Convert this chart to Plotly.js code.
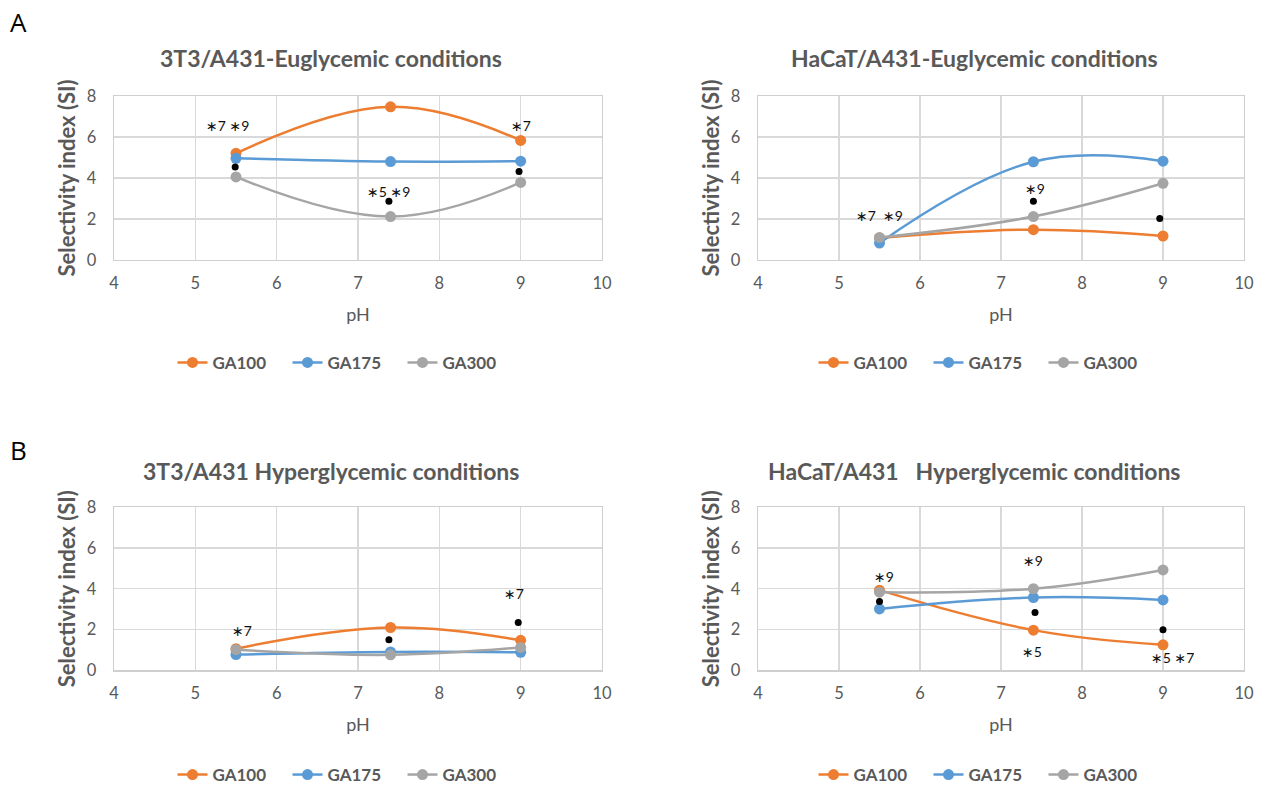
<!DOCTYPE html>
<html><head><meta charset="utf-8">
<script src="https://cdn.plot.ly/plotly-3.0.1.min.js"></script>
<style>html,body{margin:0;padding:0;background:#fff}#chart{width:1266px;height:793px}</style>
</head><body><div id="chart"></div>
<script>
// ---------- data ----------
const pH = [5.5, 7.4, 9];
const seriesNames = ['GA100', 'GA175', 'GA300'];
const panelTitles = ['3T3/A431-Euglycemic conditions', 'HaCaT/A431-Euglycemic conditions',
                     '3T3/A431 Hyperglycemic conditions', 'HaCaT/A431   Hyperglycemic conditions'];
const panelLetters = ['A', 'B'];
const xTitle = 'pH';
const yTitle = 'Selectivity index (SI)';

// Panel A, left: 3T3/A431 euglycemic
const euT3_GA100 = [5.2, 7.47, 5.83];
const euT3_GA175 = [4.96, 4.8, 4.82];
const euT3_GA300 = [4.05, 2.12, 3.78];
const euT3_dotX = [5.49, 7.38, 8.98];
const euT3_dotY = [4.53, 2.87, 4.32];
const euT3_sigX = [5.4, 7.37, 9.0];
const euT3_sigY = [6.57, 3.32, 6.57];
const euT3_sigText = ['∗7 ∗9', '∗5 ∗9', '∗7'];

// Panel A, right: HaCaT/A431 euglycemic
const euHa_GA100 = [1.07, 1.48, 1.17];
const euHa_GA175 = [0.83, 4.79, 4.82];
const euHa_GA300 = [1.1, 2.12, 3.74];
const euHa_dotX = [7.4, 8.96];
const euHa_dotY = [2.87, 2.02];
const euHa_sigX = [5.5, 7.42];
const euHa_sigY = [2.15, 3.47];
const euHa_sigText = ['∗7  ∗9', '∗9'];

// Panel B, left: 3T3/A431 hyperglycemic
const hyT3_GA100 = [1.06, 2.1, 1.47];
const hyT3_GA175 = [0.77, 0.9, 0.88];
const hyT3_GA300 = [1.01, 0.76, 1.12];
const hyT3_dotX = [7.38, 8.97];
const hyT3_dotY = [1.5, 2.35];
const hyT3_sigX = [5.57, 8.92];
const hyT3_sigY = [1.93, 3.79];
const hyT3_sigText = ['∗7', '∗7'];

// Panel B, right: HaCaT/A431 hyperglycemic
const hyHa_GA100 = [3.93, 1.97, 1.25];
const hyHa_GA175 = [3.01, 3.57, 3.45];
const hyHa_GA300 = [3.83, 4.0, 4.92];
const hyHa_dotX = [5.5, 7.42, 9.0];
const hyHa_dotY = [3.38, 2.84, 1.99];
const hyHa_sigX = [5.55, 7.39, 7.38, 9.12];
const hyHa_sigY = [4.6, 5.37, 0.93, 0.64];
const hyHa_sigText = ['∗9', '∗9', '∗5', '∗5 ∗7'];

// ---------- build ----------
const colors = ['#ED7D31', '#5B9BD5', '#A5A5A5'];
const panels = [
  {series: [euT3_GA100, euT3_GA175, euT3_GA300], dx: euT3_dotX, dy: euT3_dotY, sx: euT3_sigX, sy: euT3_sigY, st: euT3_sigText},
  {series: [euHa_GA100, euHa_GA175, euHa_GA300], dx: euHa_dotX, dy: euHa_dotY, sx: euHa_sigX, sy: euHa_sigY, st: euHa_sigText},
  {series: [hyT3_GA100, hyT3_GA175, hyT3_GA300], dx: hyT3_dotX, dy: hyT3_dotY, sx: hyT3_sigX, sy: hyT3_sigY, st: hyT3_sigText},
  {series: [hyHa_GA100, hyHa_GA175, hyHa_GA300], dx: hyHa_dotX, dy: hyHa_dotY, sx: hyHa_sigX, sy: hyHa_sigY, st: hyHa_sigText}
];

const W = 1266, H = 793;
const xDomains = [[114 / W, 602 / W], [758 / W, 1244 / W]];
const yDomains = [[1 - 263 / H, 1 - 97 / H], [1 - 678 / H, 1 - 513 / H]];
const legendX = [345 / W, 986 / W];
const legendY = [1 - 367 / H, 1 - 784 / H];
const titleY = [1 - 59 / H, 1 - 476 / H];
const titleX = [331 / W, 974 / W];

const FONT = 'Lato, "Open Sans", sans-serif';
const GREY = '#595959';

const traces = [];
const layout = {
  width: W, height: H,
  margin: {l: 0, r: 0, t: 0, b: 0},
  paper_bgcolor: '#fff', plot_bgcolor: '#fff',
  font: {family: FONT, color: GREY},
  annotations: [],
  showlegend: true
};

panels.forEach((p, i) => {
  const col = i % 2, row = Math.floor(i / 2);
  const n = i + 1;
  const xa = n === 1 ? 'x' : 'x' + n, ya = n === 1 ? 'y' : 'y' + n;
  const legName = n === 1 ? 'legend' : 'legend' + n;
  p.series.forEach((vals, k) => {
    traces.push({
      x: pH, y: vals, name: seriesNames[k], type: 'scatter', mode: 'lines+markers',
      line: {color: colors[k], width: 2.5, shape: 'spline', smoothing: 1.15},
      marker: {color: colors[k], size: 11},
      xaxis: xa, yaxis: ya, legend: legName
    });
  });
  traces.push({
    x: p.dx, y: p.dy, type: 'scatter', mode: 'markers', showlegend: false,
    marker: {color: '#000', size: 7}, xaxis: xa, yaxis: ya, hoverinfo: 'skip'
  });
  p.st.forEach((t, k) => {
    layout.annotations.push({
      x: p.sx[k], y: p.sy[k], xref: xa, yref: ya, text: t, showarrow: false,
      font: {family: 'Lato, "DejaVu Sans", sans-serif', size: 14, color: '#111'}
    });
  });
  const axName = n === 1 ? '' : String(n);
  layout['xaxis' + axName] = {
    domain: xDomains[col], anchor: ya, range: [4, 10], dtick: 1, tick0: 4,
    showgrid: true, gridcolor: '#D9D9D9', gridwidth: 1.3,
    showline: true, linecolor: '#CFCFCF', linewidth: 1.3, mirror: true, zeroline: false,
    ticks: '', ticklabelstandoff: 8,
    tickfont: {family: FONT, size: 16.5, color: GREY},
    title: {text: xTitle, font: {family: FONT, size: 18, color: GREY}, standoff: 16}
  };
  layout['yaxis' + axName] = {
    domain: yDomains[row], anchor: xa, range: [0, 8], dtick: 2, tick0: 0,
    showgrid: true, gridcolor: '#D9D9D9', gridwidth: 1.3,
    showline: true, linecolor: '#CFCFCF', linewidth: 1.3, mirror: true, zeroline: false,
    ticks: '', ticklabelstandoff: 13,
    tickfont: {family: FONT, size: 16.5, color: GREY},
    title: {text: '<b>' + yTitle + '</b>', font: {family: FONT, size: 22, color: GREY}, standoff: 5}
  };
  layout[legName] = {
    orientation: 'h', x: legendX[col], xanchor: 'center', y: legendY[row], yanchor: 'middle',
    font: {family: FONT, size: 17, color: GREY, weight: 'bold'}, bgcolor: 'rgba(0,0,0,0)',
    itemwidth: 30, entrywidth: 70, entrywidthmode: 'pixels'
  };
  layout.annotations.push({
    x: titleX[col], y: titleY[row], xref: 'paper', yref: 'paper', showarrow: false,
    text: '<b>' + panelTitles[i] + '</b>', font: {family: FONT, size: 23, color: GREY},
    xanchor: 'center', yanchor: 'middle'
  });
});

panelLetters.forEach((L, r) => {
  layout.annotations.push({
    x: 18 / W, y: r === 0 ? 1 - 22 / H : 1 - 455 / H, xref: 'paper', yref: 'paper', showarrow: false,
    text: L, font: {family: '"Open Sans", sans-serif', size: 26, color: '#000'}, xanchor: 'center', yanchor: 'middle'
  });
});

Plotly.newPlot('chart', traces, layout, {displayModeBar: false, staticPlot: true});
</script>
</body></html>
